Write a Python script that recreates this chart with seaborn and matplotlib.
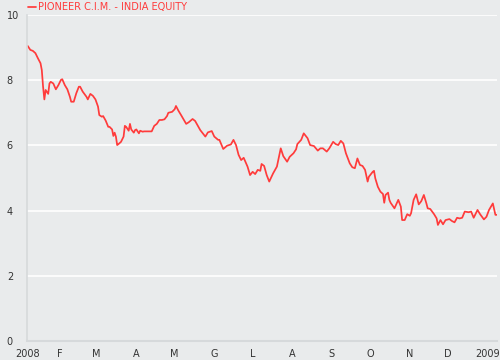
import pandas as pd
import seaborn as sns
import matplotlib
matplotlib.use('Agg')
import matplotlib.pyplot as plt

# giorni dal 1 gennaio 2008 e valore della quota
giorni = [6, 8, 10, 12, 14, 16, 17, 18, 19, 20, 22, 23, 24, 26, 28, 30, 32, 33, 35, 37,
          39, 40, 42, 44, 46, 47, 49, 52, 53, 55, 57, 59, 61, 62, 64, 65, 67, 69, 70, 72,
          73, 74, 75, 76, 77, 79, 81, 82, 83, 85, 86, 87, 89, 90, 91, 93, 94, 96, 97, 100,
          103, 105, 107, 109, 111, 113, 115, 116, 119, 121, 122, 124, 126, 130, 132, 135, 137, 141, 145, 147,
          150, 152, 155, 156, 159, 162, 165, 167, 169, 171, 173, 175, 178, 180, 182, 184, 186, 188, 189, 191,
          193, 195, 198, 201, 204, 206, 209, 211, 214, 216, 217, 220, 222, 225, 227, 230, 233, 235, 237, 240,
          242, 245, 247, 249, 251, 253, 255, 258, 260, 262, 264, 266, 268, 270, 272, 273, 276, 277, 278, 280,
          282, 284, 285, 286, 288, 289, 290, 293, 296, 298, 299, 301, 303, 305, 306, 308, 310, 312, 314, 316,
          318, 319, 321, 324, 326, 327, 329, 331, 333, 336, 338, 340, 342, 344, 346, 348, 351, 353, 355, 358,
          360, 363, 365, 367, 370, 372, 373]
valori = [9.05, 8.93, 8.90, 8.83, 8.67, 8.52, 8.31, 7.80, 7.41, 7.70, 7.58, 7.90, 7.95, 7.90, 7.72, 7.85, 8.01, 8.03, 7.85, 7.72,
          7.49, 7.34, 7.34, 7.60, 7.80, 7.80, 7.65, 7.49, 7.41, 7.58, 7.52, 7.41, 7.19, 6.93, 6.88, 6.90, 6.76, 6.57, 6.57, 6.49,
          6.29, 6.39, 6.27, 6.01, 6.04, 6.11, 6.27, 6.60, 6.57, 6.45, 6.66, 6.49, 6.39, 6.47, 6.49, 6.37, 6.45, 6.42, 6.43, 6.43,
          6.43, 6.60, 6.66, 6.78, 6.78, 6.80, 6.90, 7.00, 7.03, 7.11, 7.21, 7.06, 6.93, 6.66, 6.71, 6.81, 6.75, 6.47, 6.27, 6.40,
          6.44, 6.27, 6.17, 6.17, 5.89, 5.99, 6.03, 6.17, 6.01, 5.71, 5.55, 5.62, 5.35, 5.09, 5.19, 5.12, 5.25, 5.22, 5.43, 5.37,
          5.09, 4.89, 5.14, 5.35, 5.91, 5.67, 5.50, 5.65, 5.76, 5.88, 6.04, 6.17, 6.37, 6.22, 6.01, 5.98, 5.84, 5.91, 5.91, 5.81,
          5.91, 6.11, 6.04, 6.01, 6.14, 6.06, 5.76, 5.45, 5.33, 5.30, 5.60, 5.40, 5.37, 5.25, 4.89, 5.04, 5.19, 5.22, 4.99, 4.73,
          4.58, 4.51, 4.24, 4.48, 4.55, 4.33, 4.24, 4.07, 4.33, 4.12, 3.71, 3.71, 3.89, 3.84, 3.92, 4.33, 4.50, 4.19, 4.29, 4.48,
          4.22, 4.07, 4.05, 3.89, 3.76, 3.56, 3.71, 3.58, 3.71, 3.74, 3.68, 3.64, 3.78, 3.76, 3.78, 3.97, 3.95, 3.97, 3.78, 4.02,
          3.89, 3.73, 3.81, 4.02, 4.22, 3.87, 3.87]

mesi = ['2008', 'F', 'M', 'A', 'M', 'G', 'L', 'A', 'S', 'O', 'N', 'D', '2009']
tick_y = [0, 2, 4, 6, 8, 10]
serie = 'PIONEER C.I.M. - INDIA EQUITY'

sfondo = '#e9ebec'
rosso = '#ff3b3b'

inizio = pd.Timestamp('2008-01-01')
df = pd.DataFrame({'data': inizio + pd.to_timedelta(giorni, unit='D'), 'valore': valori})

sns.set_style('white', {'axes.facecolor': sfondo, 'figure.facecolor': sfondo})
plt.rcParams['font.family'] = ['DejaVu Sans']

fig = plt.figure(figsize=(5, 3.6), dpi=100)
ax = fig.add_axes([27 / 500, 19 / 360, 470 / 500, 326 / 360])

sns.lineplot(data=df, x='data', y='valore', color=rosso, linewidth=1.25, label=serie, ax=ax)

# griglia orizzontale bianca
ax.set_ylim(0, 10)
ax.set_yticks(tick_y)
ax.set_yticklabels([str(v) for v in tick_y])
for v in tick_y[1:]:
    ax.axhline(v, color='white', linewidth=1.2, zorder=0)

# tick dei mesi (il primo coincide con l'inizio della serie)
posizioni = [df['data'].iloc[0]] + list(pd.date_range('2008-02-01', '2009-01-01', freq='MS'))
ax.set_xticks(posizioni)
ax.set_xticklabels(mesi)
ax.set_xlim(df['data'].iloc[0] - pd.Timedelta(hours=14), df['data'].iloc[-1] + pd.Timedelta(hours=6))

ax.set_xlabel('')
ax.set_ylabel('')
for s in ['top', 'right']:
    ax.spines[s].set_visible(False)
ax.spines['left'].set_color('#d6d9db')
ax.spines['bottom'].set_color('#d6d9db')
ax.spines['left'].set_linewidth(1.2)
ax.spines['bottom'].set_linewidth(1.5)

ax.tick_params(axis='y', length=6, color='#f7f7f7', width=1.2, pad=8.5, labelsize=7, labelcolor='#333333')
ax.tick_params(axis='x', length=0, pad=6, labelsize=7, labelcolor='#333333')
for lab in ax.get_yticklabels():
    lab.set_horizontalalignment('left')

leg = ax.legend(loc='center left', bbox_to_anchor=(28 / 500, 353 / 360), bbox_transform=fig.transFigure,
                frameon=False, borderpad=0, borderaxespad=0, handlelength=0.8, handletextpad=0.25,
                fontsize=7)
for t in leg.get_texts():
    t.set_color(rosso)

fig.savefig('out.png', dpi=100, facecolor=sfondo)
